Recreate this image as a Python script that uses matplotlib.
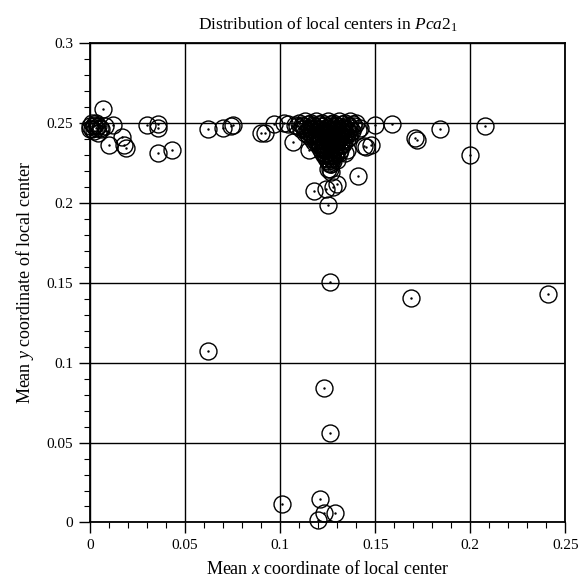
# Distribution of local centers in Pca2_1 - scatter of mean local center coordinates
import matplotlib as mpl
import matplotlib.pyplot as plt
from matplotlib.ticker import MultipleLocator, FormatStrFormatter

# points near the origin (x ~ 0)
x_left = [0.000, 0.001, 0.002, 0.003, 0.001, 0.004, 0.002, 0.005, 0.000, 0.003,
          0.006, 0.004, 0.002, 0.008, 0.007, 0.012, 0.010, 0.017, 0.018, 0.019]
y_left = [0.248, 0.246, 0.249, 0.247, 0.250, 0.248, 0.245, 0.247, 0.246, 0.250,
          0.246, 0.244, 0.248, 0.248, 0.259, 0.249, 0.236, 0.241, 0.236, 0.234]

# scattered points along y ~ 0.25 and around the main cluster
x_band = [0.030, 0.036, 0.036, 0.036, 0.043, 0.062, 0.070, 0.074, 0.075, 0.090,
          0.092, 0.097, 0.102, 0.104, 0.107, 0.108, 0.115, 0.135, 0.141, 0.144,
          0.145, 0.148, 0.150, 0.159, 0.171, 0.172, 0.184, 0.200, 0.208, 0.134,
          0.125, 0.127, 0.126, 0.130, 0.141, 0.118, 0.124, 0.128, 0.130, 0.125]
y_band = [0.249, 0.247, 0.2495, 0.231, 0.233, 0.246, 0.247, 0.248, 0.2486, 0.244,
          0.2436, 0.2495, 0.250, 0.2495, 0.238, 0.249, 0.233, 0.233, 0.2453, 0.2355,
          0.235, 0.236, 0.2484, 0.2495, 0.2405, 0.2395, 0.2464, 0.2297, 0.248, 0.2314,
          0.2209, 0.219, 0.2214, 0.2266, 0.2170, 0.2074, 0.2089, 0.2099, 0.212, 0.1989]

# the dense cluster around (0.125, 0.24)
x_core = [0.110, 0.113, 0.116, 0.119, 0.122, 0.125, 0.128, 0.131, 0.134, 0.137, 0.140,
          0.109, 0.112, 0.115, 0.118, 0.121, 0.124, 0.127, 0.130, 0.133, 0.136, 0.139, 0.142,
          0.111, 0.114, 0.117, 0.120, 0.123, 0.126, 0.129, 0.132, 0.135, 0.138,
          0.113, 0.116, 0.119, 0.122, 0.125, 0.128, 0.131, 0.134, 0.137,
          0.115, 0.118, 0.121, 0.124, 0.127, 0.130, 0.133, 0.136,
          0.117, 0.120, 0.123, 0.126, 0.129, 0.132, 0.135,
          0.118, 0.121, 0.124, 0.127, 0.130, 0.133,
          0.120, 0.123, 0.126, 0.129, 0.132,
          0.121, 0.124, 0.127, 0.130,
          0.122, 0.125, 0.128, 0.131,
          0.123, 0.126, 0.129,
          0.124, 0.127, 0.125, 0.128, 0.126,
          # second, interleaved pass through the cluster
          0.1115, 0.1145, 0.1175, 0.1205, 0.1235, 0.1265, 0.1295, 0.1325, 0.1355, 0.1385,
          0.1125, 0.1155, 0.1185, 0.1215, 0.1245, 0.1275, 0.1305, 0.1335, 0.1365,
          0.1145, 0.1175, 0.1205, 0.1235, 0.1265, 0.1295, 0.1325, 0.1355,
          0.1165, 0.1195, 0.1225, 0.1255, 0.1285, 0.1315, 0.1345,
          0.1185, 0.1215, 0.1245, 0.1275, 0.1305, 0.1335,
          0.1205, 0.1235, 0.1265, 0.1295, 0.1325,
          0.1225, 0.1255, 0.1285, 0.1315,
          0.1235, 0.1265, 0.1295,
          0.1245, 0.1275, 0.1255, 0.1265]
y_core = [0.250, 0.251, 0.250, 0.251, 0.250, 0.251, 0.250, 0.251, 0.250, 0.251, 0.250,
          0.248, 0.248, 0.247, 0.248, 0.248, 0.247, 0.248, 0.248, 0.247, 0.248, 0.248, 0.247,
          0.246, 0.245, 0.246, 0.246, 0.245, 0.246, 0.246, 0.245, 0.246, 0.245,
          0.244, 0.243, 0.244, 0.243, 0.244, 0.243, 0.244, 0.243, 0.244,
          0.242, 0.241, 0.242, 0.241, 0.242, 0.241, 0.242, 0.241,
          0.240, 0.239, 0.240, 0.239, 0.240, 0.239, 0.240,
          0.238, 0.237, 0.238, 0.237, 0.238, 0.237,
          0.236, 0.235, 0.236, 0.235, 0.236,
          0.234, 0.233, 0.234, 0.233,
          0.232, 0.231, 0.232, 0.231,
          0.230, 0.229, 0.230,
          0.228, 0.228, 0.226, 0.226, 0.224,
          0.2490, 0.2495, 0.2490, 0.2495, 0.2490, 0.2495, 0.2490, 0.2495, 0.2490, 0.2495,
          0.2470, 0.2465, 0.2470, 0.2465, 0.2470, 0.2465, 0.2470, 0.2465, 0.2470,
          0.2450, 0.2445, 0.2450, 0.2445, 0.2450, 0.2445, 0.2450, 0.2445,
          0.2425, 0.2420, 0.2425, 0.2420, 0.2425, 0.2420, 0.2425,
          0.2395, 0.2390, 0.2395, 0.2390, 0.2395, 0.2390,
          0.2365, 0.2360, 0.2365, 0.2360, 0.2365,
          0.2335, 0.2330, 0.2335, 0.2330,
          0.2305, 0.2300, 0.2305,
          0.2275, 0.2275, 0.2250, 0.2240]

# isolated points further down
x_low = [0.062, 0.126, 0.123, 0.126, 0.169, 0.241, 0.101, 0.121, 0.129, 0.123, 0.120]
y_low = [0.107, 0.1505, 0.0843, 0.0561, 0.1405, 0.143, 0.0114, 0.0145, 0.0061, 0.0057, 0.0016]

xs = x_left + x_band + x_core + x_low
ys = y_left + y_band + y_core + y_low

mpl.rcParams['font.family'] = ['Liberation Serif', 'DejaVu Serif']
mpl.rcParams['mathtext.fontset'] = 'custom'
mpl.rcParams['mathtext.rm'] = 'Liberation Serif'
mpl.rcParams['mathtext.it'] = 'Liberation Serif:italic'

fig = plt.figure(figsize=(5.81, 5.86), dpi=100)
ax = fig.add_axes([0.155, 0.1084, 0.818, 0.8182])

ax.plot(xs, ys, linestyle='none', marker='o', markersize=12.2,
        markerfacecolor='none', markeredgecolor='black', markeredgewidth=1.0,
        clip_on=False, zorder=3)
ax.plot(xs, ys, linestyle='none', marker='.', markersize=1.5,
        color='black', clip_on=False, zorder=3)

ax.set_xlim(0, 0.25)
ax.set_ylim(0, 0.3)
ax.xaxis.set_major_locator(MultipleLocator(0.05))
ax.yaxis.set_major_locator(MultipleLocator(0.05))
ax.xaxis.set_minor_locator(MultipleLocator(0.01))
ax.yaxis.set_minor_locator(MultipleLocator(0.01))
ax.xaxis.set_major_formatter(FormatStrFormatter('%g'))
ax.yaxis.set_major_formatter(FormatStrFormatter('%g'))
ax.grid(True, which='major', color='black', linewidth=1.0)
ax.set_axisbelow(True)
ax.tick_params(which='major', direction='out', length=8, width=1.0, labelsize=11, pad=4)
ax.tick_params(which='minor', direction='out', length=4, width=0.8)
for s in ax.spines.values():
    s.set_linewidth(1.3)

ax.set_title(r"Distribution of local centers in $\mathit{Pca}2_1$", fontsize=12.5, pad=10)
ax.set_xlabel(r"Mean $x$ coordinate of local center", fontsize=13, labelpad=6)
ax.set_ylabel(r"Mean $y$ coordinate of local center", fontsize=13, labelpad=8)

fig.savefig('out.png', dpi=100)
